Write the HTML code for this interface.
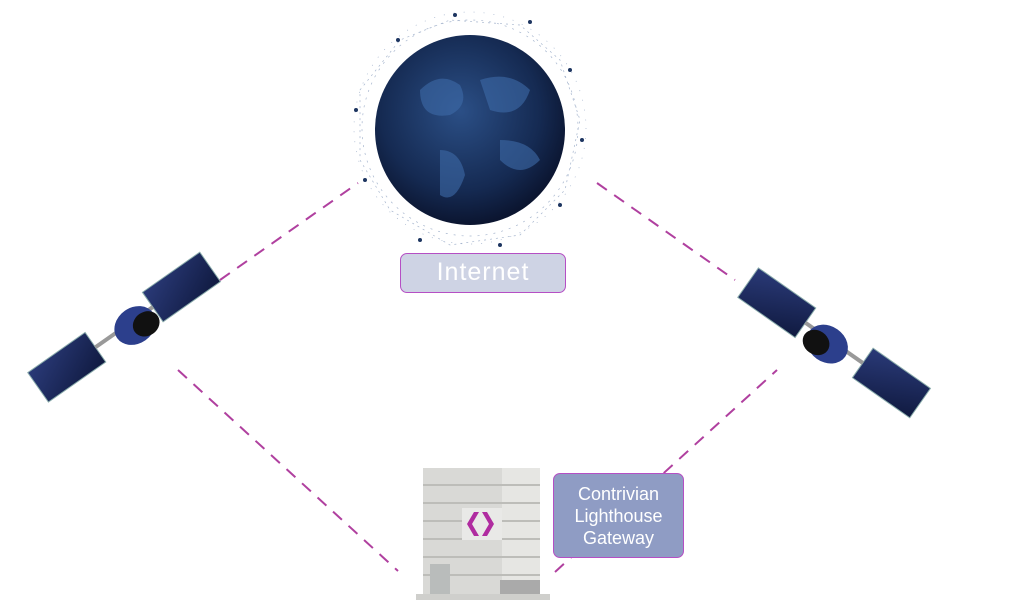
<!DOCTYPE html>
<html><head><style>
body{margin:0;width:1024px;height:614px;background:#fff;overflow:hidden;position:relative;font-family:"Liberation Sans",sans-serif}
.box{position:absolute;border:1.5px solid #b54fc4;border-radius:7px;color:#fff;text-align:center;box-sizing:border-box}
</style></head><body>
<svg width="1024" height="614" style="position:absolute;left:0;top:0">
<defs>
<radialGradient id="g" cx="0.45" cy="0.4" r="0.6">
<stop offset="0" stop-color="#2b4f86"/><stop offset="0.7" stop-color="#152a52"/><stop offset="1" stop-color="#0b1530"/></radialGradient>
<linearGradient id="p" x1="0" y1="0" x2="1" y2="1"><stop offset="0" stop-color="#2a3a78"/><stop offset="1" stop-color="#101a40"/></linearGradient>
</defs>
<g stroke="#b0409f" stroke-width="2" stroke-dasharray="12 9" fill="none">
<line x1="220" y1="280" x2="358" y2="183"/>
<line x1="597" y1="183" x2="735" y2="280"/>
<line x1="178" y1="370" x2="398" y2="571"/>
<line x1="555" y1="572" x2="777" y2="370"/>
</g>
<g stroke="#7f95b8" stroke-width="0.7" opacity="0.7" fill="none">
<circle cx="470" cy="128" r="108" stroke-dasharray="2 6"/><circle cx="470" cy="128" r="116" stroke-dasharray="1 9"/>
<path d="M360 90 L400 40 L450 20 L520 25 L560 60 L580 120 L565 190 L520 235 L450 245 L390 210 L360 160 Z" stroke-dasharray="2 4"/>
</g>
<g fill="#1d3560">
<circle cx="398" cy="40" r="2"/><circle cx="455" cy="15" r="2"/><circle cx="530" cy="22" r="2"/><circle cx="570" cy="70" r="2"/><circle cx="582" cy="140" r="2"/><circle cx="560" cy="205" r="2"/><circle cx="500" cy="245" r="2"/><circle cx="420" cy="240" r="2"/><circle cx="365" cy="180" r="2"/><circle cx="356" cy="110" r="2"/>
</g>
<circle cx="470" cy="130" r="95" fill="url(#g)"/>
<path d="M420 90 q20-20 40-5 q10 20-10 30 q-30 5-30-25z M480 80 q30-10 50 10 q-10 30-40 20z M440 150 q20 0 25 25 q-10 30-25 20z M500 140 q30 0 40 20 q-20 20-40 0z" fill="#3d6aa8" opacity="0.6"/>
<g transform="translate(120,330) rotate(-35)">
<rect x="-100" y="-18" width="70" height="36" fill="url(#p)" stroke="#8aa" stroke-width="1"/>
<rect x="40" y="-18" width="70" height="36" fill="url(#p)" stroke="#8aa" stroke-width="1"/>
<rect x="-30" y="-2" width="70" height="4" fill="#999"/>
<ellipse cx="15" cy="5" rx="22" ry="18" fill="#2c3f8c"/>
<ellipse cx="25" cy="10" rx="14" ry="12" fill="#111"/>
</g>
<g transform="translate(830,340) rotate(35)">
<rect x="-100" y="-18" width="70" height="36" fill="url(#p)" stroke="#8aa" stroke-width="1"/>
<rect x="40" y="-18" width="70" height="36" fill="url(#p)" stroke="#8aa" stroke-width="1"/>
<rect x="-30" y="-2" width="70" height="4" fill="#999"/>
<ellipse cx="0" cy="5" rx="22" ry="18" fill="#2c3f8c"/>
<ellipse cx="-10" cy="10" rx="14" ry="12" fill="#111"/>
</g>
<rect x="423" y="468" width="100" height="128" fill="#d9d9d6"/>
<rect x="502" y="468" width="38" height="128" fill="#e6e6e3"/>
<g stroke="#bdbdb9" stroke-width="2">
<line x1="423" y1="485" x2="540" y2="485"/><line x1="423" y1="503" x2="540" y2="503"/>
<line x1="423" y1="521" x2="540" y2="521"/><line x1="423" y1="539" x2="540" y2="539"/>
<line x1="423" y1="557" x2="540" y2="557"/><line x1="423" y1="575" x2="540" y2="575"/>
</g>
<rect x="430" y="564" width="20" height="32" fill="#b9bcbb"/>
<rect x="500" y="580" width="40" height="16" fill="#aaa"/>
<rect x="416" y="594" width="134" height="6" fill="#cfcfcc"/>
<rect x="462" y="508" width="40" height="32" fill="#e9e9e7"/>
<path d="M474 512 l-7 12 l7 12 l5 0 l-7-12 l7-12z M487 512 l7 12 l-7 12 l-5 0 l7-12 l-7-12z" fill="#b02ca0"/>
</svg>
<div class="box" style="left:400px;top:253px;width:166px;height:40px;background:#ced3e4;font-size:25px;line-height:36px;letter-spacing:1px">Internet</div>
<div class="box" style="left:553px;top:473px;width:131px;height:85px;background:#8f9cc4;font-size:18px;line-height:22px;padding-top:9px">Contrivian<br>Lighthouse<br>Gateway</div>
</body></html>
